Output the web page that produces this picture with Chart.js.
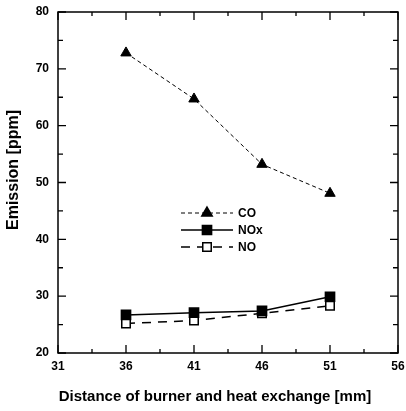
<!DOCTYPE html>
<html>
<head>
<meta charset="utf-8">
<script src="https://cdn.jsdelivr.net/npm/chart.js@4.4.1/dist/chart.umd.min.js"></script>
<style>
  html, body { margin: 0; padding: 0; background: #fff; }
  #wrap { width: 406px; height: 411px; }
</style>
</head>
<body>
<div id="wrap"><canvas id="myChart" width="406" height="411"></canvas></div>
<script>
// distance of burner and heat exchanger [mm]
const distances = [36, 41, 46, 51];
const coValues = [72.8, 64.7, 53.2, 48.1];
const noxValues = [26.7, 27.1, 27.4, 29.9];
const noValues = [25.2, 25.7, 27.0, 28.3];

const xTickLabels = [31, 36, 41, 46, 51, 56];
const yTickLabels = [20, 30, 40, 50, 60, 70, 80];

const FONT = 'Liberation Sans, Arial, sans-serif';

function toPoints(values) {
    return distances.map((d, i) => ({ x: d, y: values[i] }));
}

// ticks pointing inward on all four sides + frame
const frameTicks = {
    id: 'frameTicks',
    afterDraw(chart) {
        const ctx = chart.ctx;
        const a = chart.chartArea;
        const xs = chart.scales.x;
        const ys = chart.scales.y;
        ctx.save();
        ctx.strokeStyle = '#000';
        ctx.lineWidth = 1.5;
        ctx.strokeRect(a.left, a.top, a.right - a.left, a.bottom - a.top);
        ctx.lineWidth = 1.3;
        xs.ticks.forEach(t => {
            const px = xs.getPixelForValue(t.value);
            const len = xTickLabels.includes(t.value) ? 8 : 4;
            ctx.beginPath();
            ctx.moveTo(px, a.bottom); ctx.lineTo(px, a.bottom - len);
            ctx.moveTo(px, a.top); ctx.lineTo(px, a.top + len);
            ctx.stroke();
        });
        ys.ticks.forEach(t => {
            const py = ys.getPixelForValue(t.value);
            const len = yTickLabels.includes(t.value) ? 8 : 5;
            ctx.beginPath();
            ctx.moveTo(a.left, py); ctx.lineTo(a.left + len, py);
            ctx.moveTo(a.right, py); ctx.lineTo(a.right - len, py);
            ctx.stroke();
        });
        ctx.restore();
    }
};

// axis titles and the legend inside the plot
const annotations = {
    id: 'annotations',
    afterDraw(chart) {
        const ctx = chart.ctx;
        ctx.save();
        ctx.fillStyle = '#000';
        ctx.font = 'bold 15px ' + FONT;
        ctx.textAlign = 'center';
        ctx.textBaseline = 'middle';
        ctx.fillText('Distance of burner and heat exchange [mm]', 215, 397);
        ctx.translate(14, 170);
        ctx.rotate(-Math.PI / 2);
        ctx.font = 'bold 16px ' + FONT;
        ctx.fillText('Emission [ppm]', 0, 0);
        ctx.restore();

        const rows = [213, 230, 247];
        ctx.save();
        chart.data.datasets.forEach((ds, i) => {
            const y = rows[i];
            ctx.strokeStyle = '#000';
            ctx.lineWidth = ds.borderWidth;
            ctx.setLineDash(ds.borderDash || []);
            ctx.beginPath();
            ctx.moveTo(181, y); ctx.lineTo(233, y);
            ctx.stroke();
            ctx.setLineDash([]);
            ctx.fillStyle = ds.pointBackgroundColor;
            ctx.strokeStyle = '#000';
            ctx.lineWidth = 1.5;
            Chart.helpers.drawPoint(ctx, {
                pointStyle: ds.pointStyle,
                radius: ds.pointRadius,
                borderWidth: 1.5
            }, 207, y);
            ctx.fillStyle = '#000';
            ctx.font = 'bold 12px ' + FONT;
            ctx.textAlign = 'left';
            ctx.textBaseline = 'middle';
            ctx.fillText(ds.label, 238, y + 1);
        });
        ctx.restore();
    }
};

const ctx = document.getElementById('myChart');

const emissionChart = new Chart(ctx, {
    type: 'line',
    data: {
        datasets: [{
            label: 'CO',
            data: toPoints(coValues),
            borderColor: '#000',
            borderWidth: 1,
            borderDash: [4, 3],
            pointStyle: 'triangle',
            pointRadius: 6,
            pointBackgroundColor: '#000',
            pointBorderColor: '#000'
        }, {
            label: 'NOx',
            data: toPoints(noxValues),
            borderColor: '#000',
            borderWidth: 1.5,
            pointStyle: 'rect',
            pointRadius: 6.5,
            pointBackgroundColor: '#000',
            pointBorderColor: '#000'
        }, {
            label: 'NO',
            data: toPoints(noValues),
            borderColor: '#000',
            borderWidth: 1.5,
            borderDash: [9, 7],
            pointStyle: 'rect',
            pointRadius: 6,
            pointBorderWidth: 1.5,
            pointBackgroundColor: '#fff',
            pointBorderColor: '#000'
        }]
    },
    options: {
        responsive: false,
        animation: false,
        layout: { padding: { top: 12, right: 6, left: 0, bottom: 0 } },
        plugins: {
            legend: { display: false },
            tooltip: { enabled: false }
        },
        scales: {
            x: {
                type: 'linear',
                min: 31,
                max: 56,
                grid: { display: false, drawTicks: false },
                border: { display: false },
                afterFit: s => { s.height = 58; s.paddingLeft = 0; s.paddingRight = 0; },
                ticks: {
                    stepSize: 2.5,
                    autoSkip: false,
                    maxRotation: 0,
                    padding: 6,
                    color: '#000',
                    font: { family: FONT, size: 12, weight: 'bold' },
                    callback: v => xTickLabels.includes(v) ? String(v) : ''
                }
            },
            y: {
                min: 20,
                max: 80,
                grid: { display: false, drawTicks: false },
                border: { display: false },
                afterFit: s => { s.width = 58; s.paddingTop = 0; s.paddingBottom = 0; },
                ticks: {
                    stepSize: 5,
                    autoSkip: false,
                    padding: 9,
                    color: '#000',
                    font: { family: FONT, size: 12, weight: 'bold' },
                    callback: v => yTickLabels.includes(v) ? String(v) : ''
                }
            }
        }
    },
    plugins: [frameTicks, annotations]
});
</script>
</body>
</html>
